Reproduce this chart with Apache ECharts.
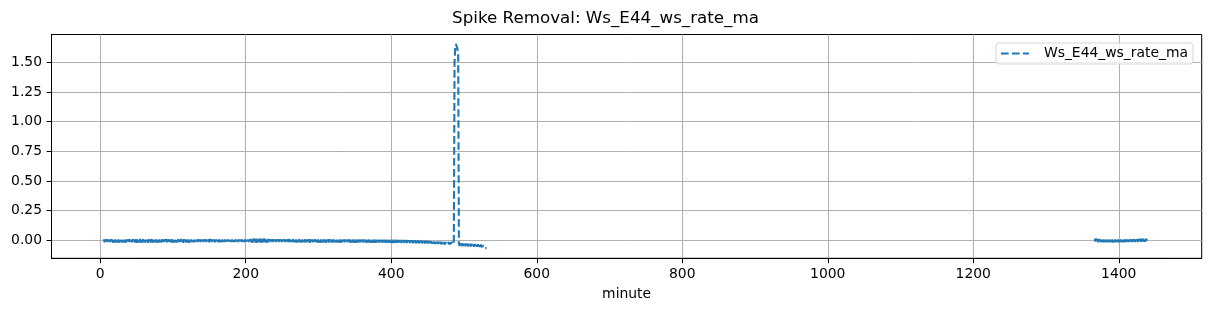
<!DOCTYPE html>
<html>
<head>
<meta charset="utf-8">
<script src="https://cdn.jsdelivr.net/npm/echarts@6/dist/echarts.min.js"></script>
<style>
html,body{margin:0;padding:0;background:#fff;}
#chart{width:1211px;height:311px;}
</style>
</head>
<body>
<div id="chart"></div>
<script>
const titleText = 'Spike Removal: Ws_E44_ws_rate_ma';
const seriesName = 'Ws_E44_ws_rate_ma';
const xAxisName = 'minute';
const xTicks = [0, 200, 400, 600, 800, 1000, 1200, 1400];
const yTicks = [0, 0.25, 0.5, 0.75, 1.0, 1.25, 1.5];

// segment 1: one value per minute starting at minute 5
const segAStart = 5;
const segAValues = [
0.008,-0.016,0.006,-0.019,0.009,-0.014,0.007,-0.020,0.004,-0.015,0.008,-0.018,0.005,-0.021,0.009,-0.013,0.007,-0.019,0.003,-0.016,
0.007,-0.020,0.009,-0.015,0.005,-0.018,0.010,-0.013,0.004,-0.021,0.008,-0.016,0.006,-0.019,0.009,-0.014,0.007,-0.020,0.003,-0.017,
0.008,-0.014,0.005,-0.019,0.009,-0.021,0.007,-0.015,0.004,-0.018,0.010,-0.016,0.006,-0.020,0.008,-0.013,0.009,-0.019,0.004,-0.016,
0.007,-0.021,0.009,-0.015,0.005,-0.018,0.010,-0.020,0.003,-0.014,0.008,-0.019,0.006,-0.016,0.009,-0.021,0.007,-0.015,0.004,-0.018,
0.008,-0.020,0.005,-0.014,0.009,-0.019,0.010,-0.016,0.004,-0.021,0.008,-0.015,0.006,-0.018,0.009,-0.020,0.007,-0.014,0.003,-0.019,
0.007,-0.016,0.009,-0.021,0.005,-0.015,0.010,-0.018,0.004,-0.020,0.008,-0.014,0.006,-0.019,0.009,-0.016,0.007,-0.021,0.004,-0.015,
0.006,-0.014,0.008,-0.017,0.004,-0.013,0.007,-0.016,0.005,-0.014,0.008,-0.017,0.006,-0.013,0.007,-0.016,0.004,-0.014,0.008,-0.017,
0.006,-0.013,0.005,-0.016,0.008,-0.017,0.012,-0.016,0.006,-0.014,0.005,-0.013,0.007,-0.016,0.006,-0.014,0.005,-0.013,0.007,-0.016,
0.005,-0.013,0.007,-0.015,0.005,-0.012,0.006,-0.015,0.005,-0.013,0.007,-0.012,0.005,-0.015,0.006,-0.013,0.005,-0.012,0.007,-0.015,
0.005,-0.013,0.007,-0.012,0.005,-0.015,0.006,-0.013,0.005,-0.012,0.007,-0.015,0.005,-0.013,0.006,-0.012,0.005,-0.015,0.007,-0.013,
0.007,-0.015,0.010,-0.018,0.013,-0.020,0.015,-0.017,0.012,-0.021,0.016,-0.019,0.011,-0.016,0.014,-0.020,0.013,-0.018,0.010,-0.017,
0.015,-0.021,0.012,-0.019,0.016,-0.018,0.011,-0.017,0.008,-0.015,0.007,-0.016,0.008,-0.014,0.006,-0.017,0.007,-0.015,0.008,-0.016,
0.006,-0.014,0.008,-0.017,0.007,-0.015,0.006,-0.016,0.008,-0.014,0.007,-0.017,0.006,-0.015,0.010,-0.018,0.007,-0.014,0.006,-0.016,
0.008,-0.017,0.006,-0.015,0.007,-0.018,0.006,-0.016,0.008,-0.014,0.007,-0.019,0.006,-0.016,0.008,-0.015,0.009,-0.020,0.006,-0.016,
0.007,-0.018,0.008,-0.020,0.006,-0.016,0.007,-0.017,0.005,-0.019,0.008,-0.015,0.006,-0.018,0.007,-0.016,0.005,-0.021,0.007,-0.016,
0.006,-0.019,0.008,-0.015,0.005,-0.020,0.007,-0.016,0.006,-0.018,0.009,-0.017,0.005,-0.019,0.007,-0.021,0.006,-0.016,0.008,-0.018,
0.005,-0.019,0.007,-0.016,0.006,-0.020,0.008,-0.017,0.005,-0.018,0.006,-0.016,0.007,-0.021,0.005,-0.017,0.006,-0.019,0.007,-0.020,
0.005,-0.017,0.006,-0.019,0.004,-0.021,0.006,-0.017,0.005,-0.018,0.007,-0.020,0.005,-0.017,0.006,-0.021,0.004,-0.018,0.006,-0.019,
0.005,-0.022,0.004,-0.018,0.006,-0.020,0.004,-0.019,0.005,-0.021,0.004,-0.018,0.006,-0.020,0.004,-0.019,0.005,-0.022,0.003,-0.018,
0.005,-0.020,0.003,-0.021,0.004,-0.019,0.005,-0.022,0.003,-0.019,0.004,-0.020,0.003,-0.021,0.004,-0.019,0.003,-0.022,0.004,-0.020,
0.003,-0.021,0.004,-0.022,0.002,-0.020,0.003,-0.021,0.002,-0.023,0.003,-0.021,0.002,-0.022,0.001,-0.020,0.002,-0.023,0.001,-0.021,
0.001,-0.023,0.000,-0.022,0.001,-0.024,-0.001,-0.023,0.000,-0.025,-0.001,-0.023,-0.002,-0.024,-0.003,-0.025,-0.002,-0.026,-0.004,-0.025,
-0.004,-0.026,-0.005,-0.027,-0.006,-0.026,-0.007,-0.028,-0.008,-0.027,-0.009,-0.029,-0.009,-0.028,-0.010,-0.030,-0.011,-0.029,-0.012,-0.031,
-0.012,-0.031,-0.013,-0.032,-0.014,-0.033,-0.015,-0.032,-0.015,-0.034,-0.016,-0.033,-0.017,-0.035,-0.017,-0.034,-0.018,-0.035,-0.018,-0.034,
-0.019,-0.033,1.500,1.630,1.655,1.635,1.610,1.580,-0.024,-0.048,-0.027,-0.049,-0.026,-0.050,-0.028,-0.049,-0.029,-0.051,-0.028,-0.050,
-0.030,-0.052,-0.031,-0.051,-0.030,-0.053,-0.032,-0.052,-0.033,-0.054,-0.032,-0.053,-0.034,-0.055,-0.035,-0.054,-0.036,-0.056,-0.037,-0.055,
-0.040,-0.059,-0.044,-0.064,-0.050,-0.067,-0.066
];

// segment 2: one value per minute starting at minute 1367
const segBStart = 1367;
const segBValues = [
0.013,-0.011,0.015,-0.014,0.008,-0.016,0.010,-0.015,0.007,-0.017,0.009,-0.014,0.006,-0.016,0.008,-0.015,0.007,-0.017,0.009,-0.014,
0.006,-0.016,0.008,-0.015,0.007,-0.018,0.009,-0.014,0.006,-0.016,0.008,-0.015,0.007,-0.017,0.009,-0.014,0.006,-0.016,0.008,-0.015,
0.007,-0.017,0.009,-0.014,0.006,-0.016,0.008,-0.015,0.007,-0.017,0.009,-0.014,0.006,-0.016,0.008,-0.015,0.007,-0.016,0.009,-0.014,
0.010,-0.013,0.012,-0.012,0.014,-0.014,0.013,-0.011,0.015,-0.013,0.014,-0.010,0.012,0.006
];

const lineData = [];
segAValues.forEach((v, i) => lineData.push([segAStart + i, v]));
lineData.push([900, null]);
segBValues.forEach((v, i) => lineData.push([segBStart + i, v]));

const FONT = 'DejaVu Sans';
const LINE_COLOR = '#1f77b4';
const chart = echarts.init(document.getElementById('chart'), null, {renderer: 'canvas'});
chart.setOption({
  animation: false,
  backgroundColor: '#ffffff',
  title: {
    text: titleText,
    left: 'center',
    top: 5,
    textStyle: {fontFamily: FONT, fontSize: 16.7, fontWeight: 'normal', color: '#000'}
  },
  legend: {
    data: [{name: seriesName, icon: 'path://M0,0h7.7v2.1h-7.7z M11,0h7.7v2.1h-7.7z M22,0h6v2.1h-6z'}],
    right: 18,
    top: 43,
    orient: 'vertical',
    itemWidth: 28,
    itemHeight: 2.1,
    padding: [2.5, 5, 2.5, 5],
    borderColor: '#d5d5d5',
    borderWidth: 1,
    borderRadius: 3,
    backgroundColor: 'rgba(255,255,255,0.8)',
    itemStyle: {color: LINE_COLOR, borderWidth: 0},
    lineStyle: {width: 0},
    textStyle: {fontFamily: FONT, fontSize: 13.9, color: '#000', padding: [0, 0, 0, 10], lineHeight: 16}
  },
  grid: {
    left: 51.5, right: 9.3, top: 34.5, bottom: 52.7,
    show: true, borderColor: '#000', borderWidth: 1, backgroundColor: 'transparent'
  },
  xAxis: {
    type: 'value',
    min: -67, max: 1514,
    name: xAxisName,
    nameLocation: 'middle',
    nameGap: 29,
    nameTextStyle: {fontFamily: FONT, fontSize: 13.9, color: '#000'},
    axisLine: {show: true, onZero: false, lineStyle: {color: '#000', width: 1}},
    axisTick: {show: true, length: 4.9, customValues: xTicks, lineStyle: {color: '#000', width: 1}},
    axisLabel: {customValues: xTicks, fontFamily: FONT, fontSize: 13.9, color: '#000', margin: 9, formatter: v => String(v)},
    splitLine: {show: true, lineStyle: {color: '#b0b0b0', width: 1}}
  },
  yAxis: {
    type: 'value',
    min: -0.152, max: 1.736,
    axisLine: {show: true, onZero: false, lineStyle: {color: '#000', width: 1}},
    axisTick: {show: true, length: 4.9, customValues: yTicks, lineStyle: {color: '#000', width: 1}},
    axisLabel: {customValues: yTicks, fontFamily: FONT, fontSize: 13.9, color: '#000', margin: 9.5, formatter: v => v.toFixed(2)},
    splitLine: {show: true, lineStyle: {color: '#b0b0b0', width: 1}}
  },
  series: [{
    name: seriesName,
    type: 'line',
    data: lineData,
    symbol: 'none',
    showSymbol: false,
    connectNulls: false,
    color: LINE_COLOR,
    lineStyle: {color: LINE_COLOR, width: 2.1, type: [7.7, 3.3]}
  }]
});
</script>
</body>
</html>
